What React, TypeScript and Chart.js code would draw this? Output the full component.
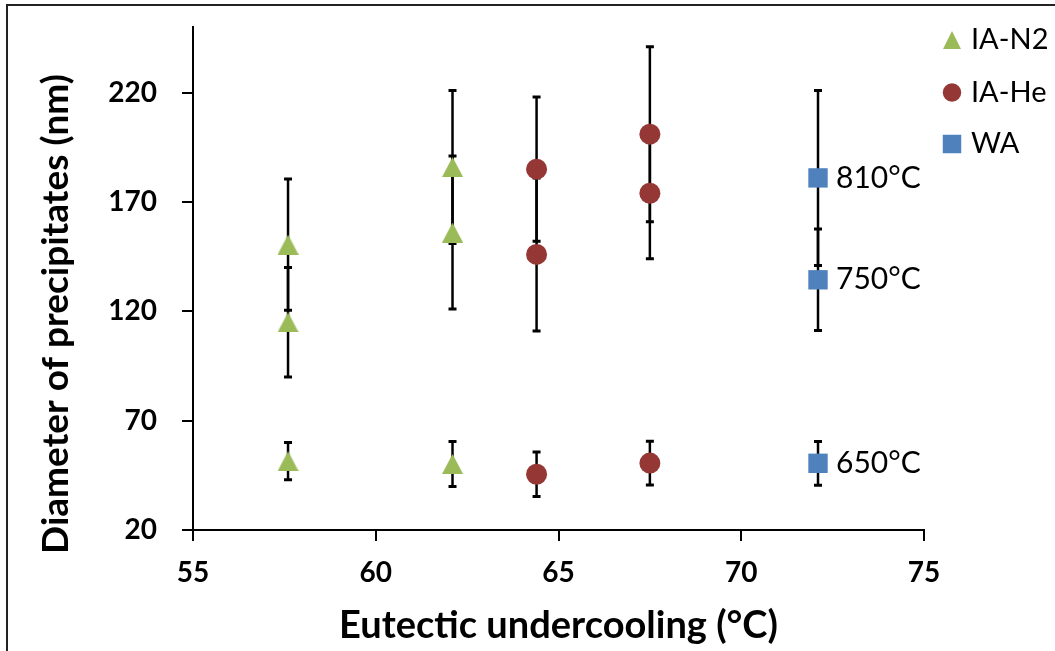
import React, { useEffect, useRef } from "react";
import { Chart, registerables } from "chart.js";

Chart.register(...registerables);

// ---- data ----
const N2_X = [57.6, 57.6, 57.6, 62.1, 62.1, 62.1];
const N2_Y = [150.5, 115, 51.5, 186, 156, 50.2];
const N2_ERR = [30, 25, 8.5, 35, 35, 10.3];

const HE_X = [64.4, 64.4, 64.4, 67.5, 67.5, 67.5];
const HE_Y = [185, 146, 45.5, 201, 174, 50.6];
const HE_ERR = [33, 35, 10.2, 40, 30, 10];

const WA_X = [72.1, 72.1, 72.1];
const WA_Y = [181, 134.4, 50.5];
const WA_ERR = [40, 23.2, 10];
const WA_LABELS = ["810°C", "750°C", "650°C"];

const SERIES_NAMES = ["IA-N2", "IA-He", "WA"];
const SERIES_COLORS = ["#9BBB59", "#953735", "#4F81BD"];
const X_TICKS = [55, 60, 65, 70, 75];
const Y_TICKS = [20, 70, 120, 170, 220];
const X_TITLE = "Eutectic undercooling (°C)";
const Y_TITLE = "Diameter of precipitates (nm)";

const FONT = "Lato, 'Open Sans', sans-serif";

export default function App() {
  const ref = useRef<HTMLCanvasElement>(null);

  useEffect(() => {
    const canvas = ref.current!;
    const ERRORS = [N2_ERR, HE_ERR, WA_ERR];
    const mk = (xs: number[], ys: number[]) => xs.map((x, i) => ({ x, y: ys[i] }));

    // triangle marker centred on its bounding box (as in the source chart)
    const tri = document.createElement("canvas");
    tri.width = 21;
    tri.height = 20;
    const tctx = tri.getContext("2d")!;
    tctx.fillStyle = SERIES_COLORS[0];
    tctx.beginPath();
    tctx.moveTo(10.5, 0);
    tctx.lineTo(21, 20);
    tctx.lineTo(0, 20);
    tctx.closePath();
    tctx.fill();

    const drawMarker = (ctx: CanvasRenderingContext2D, style: string, x: number, y: number, s: number, color: string) => {
      ctx.save();
      ctx.fillStyle = color;
      ctx.beginPath();
      if (style === "triangle") {
        ctx.moveTo(x, y - s / 2);
        ctx.lineTo(x + s / 2, y + s / 2);
        ctx.lineTo(x - s / 2, y + s / 2);
        ctx.closePath();
      } else if (style === "circle") {
        ctx.arc(x, y, s / 2, 0, Math.PI * 2);
      } else {
        ctx.rect(x - s / 2, y - s / 2, s, s);
      }
      ctx.fill();
      ctx.restore();
    };

    const custom = {
      id: "custom",
      beforeDatasetsDraw(chart: any) {
        const ctx = chart.ctx as CanvasRenderingContext2D;
        const xs = chart.scales.x;
        const ys = chart.scales.y;
        ctx.save();
        ctx.strokeStyle = "#000";
        chart.data.datasets.forEach((ds: any, di: number) => {
          ds.data.forEach((p: any, i: number) => {
            const e = ERRORS[di][i];
            const px = xs.getPixelForValue(p.x);
            const top = ys.getPixelForValue(p.y + e);
            const bot = ys.getPixelForValue(p.y - e);
            ctx.lineWidth = 2.5;
            ctx.beginPath();
            ctx.moveTo(px, top);
            ctx.lineTo(px, bot);
            ctx.stroke();
            ctx.beginPath();
            ctx.lineWidth = 3;
            ctx.moveTo(px - 4, top);
            ctx.lineTo(px + 4, top);
            ctx.moveTo(px - 4, bot);
            ctx.lineTo(px + 4, bot);
            ctx.stroke();
          });
        });
        ctx.restore();
      },
      afterDraw(chart: any) {
        const ctx = chart.ctx as CanvasRenderingContext2D;
        const xs = chart.scales.x;
        const ys = chart.scales.y;
        const area = chart.chartArea;
        ctx.save();
        ctx.fillStyle = "#000";
        // x title
        ctx.font = `bold 38px ${FONT}`;
        ctx.textAlign = "center";
        ctx.textBaseline = "alphabetic";
        ctx.fillText(X_TITLE, (area.left + area.right) / 2, 638);
        // y title
        ctx.font = `bold 37px ${FONT}`;
        ctx.save();
        ctx.translate(68, 314);
        ctx.rotate(-Math.PI / 2);
        ctx.fillText(Y_TITLE, 0, 0);
        ctx.restore();
        // WA labels
        ctx.font = `30px ${FONT}`;
        ctx.textAlign = "left";
        ctx.textBaseline = "middle";
        WA_X.forEach((x, i) => {
          ctx.fillText(WA_LABELS[i], xs.getPixelForValue(x) + 18, ys.getPixelForValue(WA_Y[i]));
        });
        // legend
        ctx.font = `29px ${FONT}`;
        const styles = ["triangle", "circle", "rect"];
        const ly = [40, 92.5, 144];
        SERIES_NAMES.forEach((name, i) => {
          drawMarker(ctx, styles[i], 952, ly[i], styles[i] === "triangle" ? 18 : 18.5, SERIES_COLORS[i]);
          ctx.fillStyle = "#000";
          ctx.fillText(name, 971, ly[i]);
        });
        ctx.restore();
      },
    };

    const tickFont = { family: FONT, size: 28, weight: "bold" as const };

    const chart = new Chart(canvas, {
      type: "scatter",
      data: {
        datasets: [
          {
            label: SERIES_NAMES[0],
            data: mk(N2_X, N2_Y),
            pointStyle: tri as any,
            pointRadius: 12,
            pointBackgroundColor: SERIES_COLORS[0],
            pointBorderWidth: 0,
          },
          {
            label: SERIES_NAMES[1],
            data: mk(HE_X, HE_Y),
            pointStyle: "circle",
            pointRadius: 10.5,
            pointBackgroundColor: SERIES_COLORS[1],
            pointBorderWidth: 0,
          },
          {
            label: SERIES_NAMES[2],
            data: mk(WA_X, WA_Y),
            pointStyle: "rect",
            pointRadius: 13.7,
            pointBackgroundColor: SERIES_COLORS[2],
            pointBorderWidth: 0,
          },
        ],
      },
      options: {
        responsive: false,
        animation: false,
        devicePixelRatio: 1,
        layout: { padding: { top: 27, left: 0, right: 131, bottom: 0 } },
        plugins: { legend: { display: false }, tooltip: { enabled: false } },
        scales: {
          x: {
            type: "linear",
            min: 55,
            max: 75,
            afterBuildTicks: (s: any) => {
              s.ticks = X_TICKS.map((v) => ({ value: v }));
            },
            afterFit: (s: any) => {
              s.height = 121;
              s.paddingLeft = 0;
              s.paddingRight = 0;
            },
            grid: { drawOnChartArea: false, tickLength: 11, color: "#000", lineWidth: 2 },
            border: { color: "#000", width: 2 },
            ticks: { color: "#000", font: tickFont, padding: 15, maxRotation: 0 },
          },
          y: {
            type: "linear",
            min: 20,
            max: 250,
            afterBuildTicks: (s: any) => {
              s.ticks = Y_TICKS.map((v) => ({ value: v }));
            },
            afterFit: (s: any) => {
              s.width = 193;
              s.paddingTop = 0;
              s.paddingBottom = 0;
            },
            grid: { drawOnChartArea: false, tickLength: 11, color: "#000", lineWidth: 2 },
            border: { color: "#000", width: 2 },
            ticks: { color: "#000", font: tickFont, padding: 25 },
          },
        },
      },
      plugins: [custom],
    });
    return () => chart.destroy();
  }, []);

  return (
    <div style={{ position: "fixed", left: 0, top: 0, width: 1055, height: 651, overflow: "hidden", background: "#fff" }}>
      <canvas ref={ref} width={1055} height={651} style={{ position: "absolute", left: 0, top: 0 }} />
      <div
        style={{
          position: "absolute",
          left: 6,
          top: 4,
          width: 1100,
          height: 700,
          border: "2px solid #222",
          pointerEvents: "none",
        }}
      />
    </div>
  );
}
